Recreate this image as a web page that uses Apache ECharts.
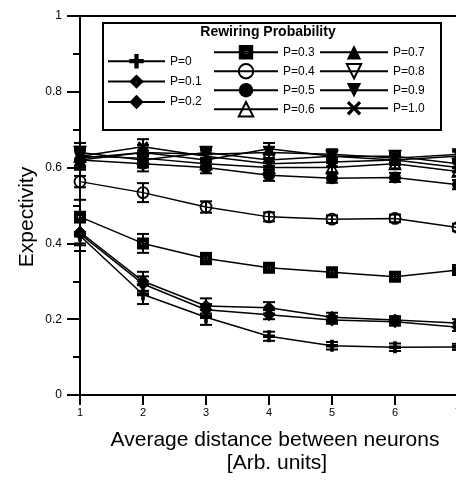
<!DOCTYPE html>
<html><head><meta charset="utf-8">
<script src="https://cdn.jsdelivr.net/npm/echarts@6/dist/echarts.min.js"></script>
<style>html,body{margin:0;padding:0;background:#fff;overflow:hidden}#c{width:456px;height:485px}</style>
</head><body><div id="c"></div>
<script>
// ---- data ----
const xValues = [1, 2, 3, 4, 5, 6, 7];
const yTicks = [0, 0.2, 0.4, 0.6, 0.8, 1];
const seriesNames = ['P=0', 'P=0.1', 'P=0.2', 'P=0.3', 'P=0.4', 'P=0.5', 'P=0.6', 'P=0.7', 'P=0.8', 'P=0.9', 'P=1.0'];

const valP00 = [0.42, 0.265, 0.205, 0.155, 0.130, 0.126, 0.127];
const valP01 = [0.43, 0.300, 0.235, 0.230, 0.205, 0.198, 0.190];
const valP02 = [0.425, 0.293, 0.225, 0.212, 0.198, 0.193, 0.179];
const valP03 = [0.47, 0.400, 0.360, 0.336, 0.324, 0.312, 0.330];
const valP04 = [0.563, 0.534, 0.496, 0.470, 0.464, 0.466, 0.442];
const valP05 = [0.62, 0.610, 0.600, 0.580, 0.572, 0.574, 0.555];
const valP06 = [0.63, 0.625, 0.610, 0.600, 0.600, 0.610, 0.590];
const valP07 = [0.62, 0.640, 0.620, 0.650, 0.630, 0.620, 0.630];
const valP08 = [0.64, 0.620, 0.640, 0.620, 0.630, 0.630, 0.610];
const valP09 = [0.625, 0.640, 0.635, 0.640, 0.635, 0.625, 0.635];
const valP10 = [0.63, 0.655, 0.630, 0.610, 0.615, 0.620, 0.600];

const errP00 = [0.040, 0.025, 0.020, 0.012, 0.010, 0.010, 0.008];
const errP01 = [0.030, 0.025, 0.020, 0.015, 0.012, 0.010, 0.010];
const errP02 = [0.030, 0.020, 0.015, 0.012, 0.010, 0.010, 0.010];
const errP03 = [0.045, 0.025, 0.015, 0.010, 0.010, 0.010, 0.010];
const errP04 = [0.015, 0.025, 0.015, 0.012, 0.010, 0.010, 0.010];
const errP05 = [0.025, 0.020, 0.015, 0.015, 0.012, 0.012, 0.012];
const errP06 = [0.025, 0.020, 0.015, 0.015, 0.012, 0.012, 0.012];
const errP07 = [0.025, 0.020, 0.015, 0.015, 0.012, 0.012, 0.012];
const errP08 = [0.025, 0.020, 0.015, 0.015, 0.012, 0.012, 0.012];
const errP09 = [0.025, 0.020, 0.015, 0.015, 0.012, 0.012, 0.012];
const errP10 = [0.025, 0.020, 0.015, 0.015, 0.012, 0.012, 0.012];

const allVals = [valP00, valP01, valP02, valP03, valP04, valP05, valP06, valP07, valP08, valP09, valP10];
const allErrs = [errP00, errP01, errP02, errP03, errP04, errP05, errP06, errP07, errP08, errP09, errP10];

// ---- symbols ----
const PLUS = 'path://M3.5,0H6.5V3.5H10V6.5H6.5V10H3.5V6.5H0V3.5H3.5Z';
const DIAMOND_DOT = 'path://M5,0L10,5L5,10L0,5Z M4.4,4.4L4.4,5.6L5.6,5.6L5.6,4.4Z';
const SQUARE_DOT = 'path://M0,0H10V10H0Z M3.5,4.2V5.8H6.5V4.2Z';
const XMARK = 'path://M0,1.6L1.6,0L5,3.4L8.4,0L10,1.6L6.6,5L10,8.4L8.4,10L5,6.6L1.6,10L0,8.4L3.4,5Z';

const styleDefs = [
  {symbol: PLUS, size: 12, hollow: false, rot: 0},
  {symbol: DIAMOND_DOT, size: 13, hollow: false, rot: 0},
  {symbol: 'diamond', size: 13, hollow: false, rot: 0},
  {symbol: SQUARE_DOT, size: 12, hollow: false, rot: 0},
  {symbol: 'circle', size: 11, hollow: true, rot: 0},
  {symbol: 'circle', size: 12, hollow: false, rot: 0},
  {symbol: 'triangle', size: 11, hollow: true, rot: 0},
  {symbol: 'triangle', size: 12, hollow: false, rot: 0},
  {symbol: 'triangle', size: 11, hollow: true, rot: 180},
  {symbol: 'triangle', size: 12, hollow: false, rot: 180},
  {symbol: XMARK, size: 11, hollow: false, rot: 0}
];

const FONT = '"Liberation Sans", Arial, Helvetica, sans-serif';

const series = [];
// error bars
allVals.forEach((vals, k) => {
  const errs = allErrs[k];
  series.push({
    type: 'custom',
    name: 'err' + k,
    z: 2,
    silent: true,
    clip: false,
    encode: {x: 0, y: [1, 2]},
    data: xValues.map((x, i) => [x, vals[i] - errs[i], vals[i] + errs[i]]),
    renderItem: function (params, api) {
      const x = api.value(0);
      const lo = api.coord([x, api.value(1)]);
      const hi = api.coord([x, api.value(2)]);
      const w = 6;
      const st = {stroke: '#000', lineWidth: 2};
      return {
        type: 'group',
        children: [
          {type: 'line', shape: {x1: lo[0], y1: lo[1], x2: hi[0], y2: hi[1]}, style: st},
          {type: 'line', shape: {x1: lo[0] - w, y1: lo[1], x2: lo[0] + w, y2: lo[1]}, style: st},
          {type: 'line', shape: {x1: hi[0] - w, y1: hi[1], x2: hi[0] + w, y2: hi[1]}, style: st}
        ]
      };
    }
  });
});
allVals.forEach((vals, k) => {
  const d = styleDefs[k];
  series.push({
    type: 'line',
    name: seriesNames[k],
    z: 3,
    data: xValues.map((x, i) => [x, vals[i]]),
    symbol: d.symbol,
    symbolSize: d.size,
    symbolRotate: d.rot,
    showAllSymbol: true,
    clip: false,
    lineStyle: {color: '#000', width: 1.5},
    itemStyle: d.hollow ? {color: 'rgba(0,0,0,0)', borderColor: '#000', borderWidth: 1.8}
                        : {color: '#000', borderWidth: 0},
    emphasis: {disabled: true}
  });
});

const legendCommon = {
  orient: 'vertical', padding: 0, itemHeight: 18, selectedMode: false, z: 10,
  textStyle: {fontSize: 12, color: '#000', fontFamily: FONT},
  lineStyle: {width: 2, color: '#000'}
};

const chart = echarts.init(document.getElementById('c'), null, {renderer: 'canvas'});
chart.setOption({
  animation: false,
  backgroundColor: '#fff',
  grid: {left: 80, top: 16, width: 378, height: 379, outerBoundsMode: 'none', containLabel: false,
         show: true, borderColor: '#000', borderWidth: 2, backgroundColor: 'transparent'},
  xAxis: {
    type: 'value', min: 1, max: 7, interval: 1,
    axisLine: {show: true, lineStyle: {color: '#000', width: 2}},
    axisTick: {show: true, length: 10, lineStyle: {color: '#000', width: 2}},
    axisLabel: {margin: 12, color: '#000', fontSize: 11, fontFamily: FONT, showMaxLabel: true},
    splitLine: {show: false}
  },
  yAxis: {
    type: 'value', min: yTicks[0], max: yTicks[yTicks.length - 1], interval: 0.2,
    axisLine: {show: true, lineStyle: {color: '#000', width: 2}},
    axisTick: {show: true, length: 13, lineStyle: {color: '#000', width: 2}},
    minorTick: {show: true, splitNumber: 2, length: 7, lineStyle: {color: '#000', width: 2}},
    axisLabel: {margin: 18, color: '#000', fontSize: 12, fontFamily: FONT},
    splitLine: {show: false}
  },
  legend: [
    Object.assign({}, legendCommon, {data: seriesNames.slice(0, 3), left: 107, top: 54, itemWidth: 57, itemGap: 6}),
    Object.assign({}, legendCommon, {data: seriesNames.slice(3, 7), left: 213, top: 45, itemWidth: 64, itemGap: 3.6}),
    Object.assign({}, legendCommon, {data: seriesNames.slice(7, 11), left: 319, top: 45, itemWidth: 68, itemGap: 3.6})
  ],
  graphic: [
    {type: 'rect', z: 5, shape: {x: 103, y: 23, width: 338, height: 107}, style: {fill: '#fff', stroke: '#000', lineWidth: 2}},
    {type: 'text', z: 6, style: {text: 'Rewiring Probability', x: 268, y: 32, textAlign: 'center', textVerticalAlign: 'middle', font: 'bold 14px ' + FONT, fill: '#000'}},
    {type: 'text', z: 6, style: {text: 'Average distance between neurons', x: 275, y: 440, textAlign: 'center', textVerticalAlign: 'middle', font: '21px ' + FONT, fill: '#000'}},
    {type: 'text', z: 6, style: {text: '[Arb. units]', x: 277, y: 463, textAlign: 'center', textVerticalAlign: 'middle', font: '21px ' + FONT, fill: '#000'}},
    {type: 'text', z: 6, x: 27, y: 217, rotation: Math.PI / 2, style: {text: 'Expectivity', x: 0, y: 0, textAlign: 'center', textVerticalAlign: 'middle', font: '21px ' + FONT, fill: '#000'}}
  ],
  series: series
});
</script>
</body></html>
